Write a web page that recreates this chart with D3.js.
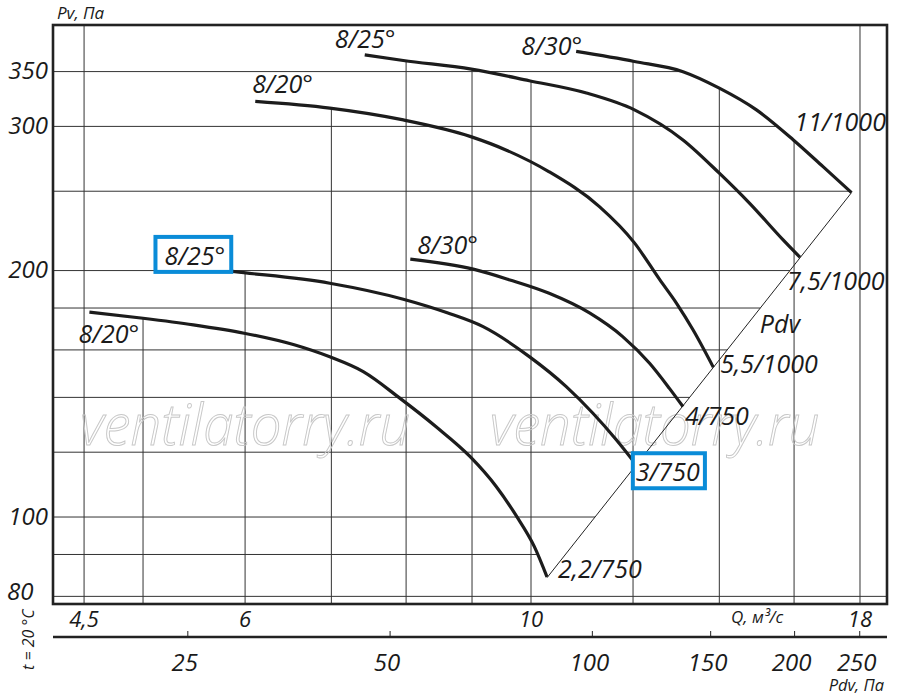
<!DOCTYPE html>
<html><head><meta charset="utf-8">
<script src="https://cdn.jsdelivr.net/npm/d3@7"></script>
<style>
body{margin:0;background:#fff;}
svg{display:block;}
text{font-family:"Open Sans",sans-serif;font-style:italic;fill:#1a1a1a;}
</style>
</head><body><svg id="c" width="900" height="696"></svg>
<script>
// ---------- DATA ----------
const qGrid = [4.5, 5, 6, 7, 8, 9, 10, 12, 14, 16, 18];
const pGrid = [80, 90, 100, 120, 140, 160, 180, 200, 250, 300, 350];
const qTicks = [4.5, 6, 10, 18];
const qTickLabels = ["4,5", "6", "10", "18"];
const pTicks = [80, 100, 200, 300, 350];
const pTickLabels = ["80", "100", "200", "300", "350"];
const pdvTicks = [25, 50, 100, 150, 200, 250];
const pdvTickLabels = ["25", "50", "100", "150", "200", "250"];

const angleLabels = ["8/20°", "8/25°", "8/30°", "8/20°", "8/25°", "8/30°"];
const motorLabels = ["2,2/750", "3/750", "4/750", "5,5/1000", "7,5/1000", "11/1000"];

const curveA_Q = [4.543, 5.00, 5.47, 5.99, 6.55, 6.98, 7.41, 7.91, 8.44, 8.97, 9.40, 9.75, 10.06, 10.29];
const curveA_P = [177.9, 174.9, 171.7, 167.7, 162.3, 156.9, 150.5, 139.7, 128.9, 118.5, 108.9, 100.1, 92.0, 84.5];
const curveB_Q = [5.57, 5.89, 6.98, 7.96, 8.61, 9.18, 9.97, 10.65, 11.17, 11.65, 12.06];
const curveB_P = [201.5, 199.4, 193.0, 184.5, 177.6, 170.8, 157.0, 144.3, 133.9, 124.2, 116.0];
const curveC_Q = [8.06, 9.02, 9.63, 10.33, 11.11, 11.78, 12.36, 12.81, 13.12];
const curveC_P = [206.5, 200.8, 194.8, 187.6, 177.4, 166.1, 154.1, 143.5, 136.4];
const curveD_Q = [6.11, 6.98, 7.96, 8.98, 9.56, 10.33, 11.30, 12.03, 12.59, 12.97, 13.36, 13.85];
const curveD_P = [321.8, 315.8, 305.5, 291.5, 280.8, 264.0, 239.4, 216.2, 194.8, 182.4, 169.2, 152.4];
const curveE_Q = [7.43, 7.96, 8.99, 9.97, 11.04, 12.03, 13.12, 14.00, 14.78, 15.69, 16.17];
const curveE_P = [366.9, 361.1, 352.4, 341.1, 329.5, 314.3, 288.8, 263.0, 241.6, 218.0, 207.6];
const curveF_Q = [10.84, 12.03, 13.12, 14.00, 14.96, 15.98, 16.85, 17.73];
const curveF_P = [370.4, 360.1, 349.9, 334.1, 314.3, 288.8, 267.9, 249.0];

// dynamic pressure line Pdv (two end points, straight on log-log)
const pdvLine_Q = [10.29, 17.73];
const pdvLine_P = [84.3, 249.0];

// ---------- LAYOUT ----------
const L = 53, R = 887, T = 25, B = 604;
const svg = d3.select("#c");
const x = d3.scaleLog().domain([4.257, 18.89]).range([L, R]);
const y = d3.scaleLog().domain([78.3, 399]).range([B, T]);
const xPdv = d3.scaleLog().domain([15.75, 274.5]).range([L, R]);

const curves = [
  {Q: curveA_Q, P: curveA_P},
  {Q: curveB_Q, P: curveB_P},
  {Q: curveC_Q, P: curveC_P},
  {Q: curveD_Q, P: curveD_P},
  {Q: curveE_Q, P: curveE_P},
  {Q: curveF_Q, P: curveF_P}
];
const pts = c => c.Q.map((q, i) => [q, c.P[i]]);

// offsets of labels relative to curve start / end (pixels)
const startOff = [[-11, 31, "start"], [-39, -3, "start"], [7, -5, "start"], [-3, -8, "start"], [-30, -7, "start"], [6, 4, "end"]];
const endOff = [[11, 1], [0, 17], [2, 18], [7, 6], [-13, 33], [-57, -62]];
const boxed = {start: [1], end: [1]};

function interpLog(xs, ys, v) {
  for (let i = 0; i < xs.length - 1; i++) {
    const a = xs[i], b = xs[i + 1];
    if ((v - a) * (v - b) <= 0 && a !== b) {
      const t = (Math.log(v) - Math.log(a)) / (Math.log(b) - Math.log(a));
      return Math.exp(Math.log(ys[i]) + t * (Math.log(ys[i + 1]) - Math.log(ys[i])));
    }
  }
  return null;
}

// ---------- GRID ----------
const gGrid = svg.append("g").attr("stroke", "#333").attr("stroke-width", 1).attr("fill", "none");
qGrid.forEach(q => {
  let top = null;
  curves.forEach(c => {
    const p = interpLog(c.Q, c.P, q);
    if (p !== null && (top === null || p > top)) top = p;
  });
  const yTop = top === null ? T : y(top);
  gGrid.append("line").attr("x1", x(q)).attr("x2", x(q)).attr("y1", B).attr("y2", yTop);
});
pGrid.forEach(p => {
  let right = null;
  curves.forEach(c => {
    const q = interpLog(c.P, c.Q, p);
    if (q !== null && (right === null || q > right)) right = q;
  });
  if (p >= 100) {
    const qd = interpLog(pdvLine_P, pdvLine_Q, p);
    if (qd !== null && (right === null || qd > right)) right = qd;
  }
  const xr = right === null ? R : x(right);
  gGrid.append("line").attr("x1", L).attr("x2", xr).attr("y1", y(p)).attr("y2", y(p));
});

// ---------- WATERMARK ----------
[[4.468, 8.06], [9.29, 16.74]].forEach(([q0, q1]) => {
  svg.append("text").text("ventilatorry.ru")
    .attr("x", x(q0)).attr("y", y(122.4))
    .attr("textLength", x(q1) - x(q0)).attr("lengthAdjust", "spacingAndGlyphs")
    .style("font-size", "57px").style("font-weight", 300)
    .style("fill", "none").style("stroke", "#c8c8c8").style("stroke-width", 1);
});

// ---------- PDV LINE ----------
svg.append("line")
  .attr("x1", x(pdvLine_Q[0])).attr("y1", y(pdvLine_P[0]))
  .attr("x2", x(pdvLine_Q[1])).attr("y2", y(pdvLine_P[1]))
  .attr("stroke", "#222").attr("stroke-width", 1);

// ---------- CURVES ----------
const line = d3.line().x(d => x(d[0])).y(d => y(d[1])).curve(d3.curveMonotoneX);
curves.forEach(c => {
  svg.append("path").attr("d", line(pts(c)))
    .attr("fill", "none").attr("stroke", "#1c1c1c").attr("stroke-width", 3.2)
    .attr("stroke-linecap", "butt");
});

// ---------- LABELS ----------
const labelSize = 25;
curves.forEach((c, i) => {
  const sx = x(c.Q[0]), sy = y(c.P[0]);
  const [dx, dy, anchor] = startOff[i];
  const t = svg.append("text").text(angleLabels[i])
    .attr("x", sx + dx).attr("y", sy + dy).attr("text-anchor", anchor)
    .style("font-size", labelSize + "px");
  if (boxed.start.includes(i)) {
    const bb = t.node().getBBox();
    svg.append("rect")
      .attr("x", bb.x - 9).attr("y", bb.y - 1).attr("width", bb.width + 15).attr("height", bb.height + 1)
      .attr("fill", "#fff").attr("stroke", "#0a8cd8").attr("stroke-width", 4);
    t.raise();
  }
  const n = c.Q.length - 1;
  const ex = x(c.Q[n]), ey = y(c.P[n]);
  const [ddx, ddy] = endOff[i];
  const m = svg.append("text").text(motorLabels[i])
    .attr("x", ex + ddx).attr("y", ey + ddy)
    .style("font-size", labelSize + "px");
  if (boxed.end.includes(i)) {
    const bb = m.node().getBBox();
    svg.append("rect")
      .attr("x", bb.x - 3).attr("y", bb.y - 1).attr("width", bb.width + 8).attr("height", bb.height + 1)
      .attr("fill", "#fff").attr("stroke", "#0a8cd8").attr("stroke-width", 4);
    m.raise();
  }
});
svg.append("text").text("Pdv").attr("x", x(15.05)).attr("y", y(167.8)).style("font-size", labelSize + "px");

// ---------- FRAME ----------
svg.append("rect").attr("x", L).attr("y", T).attr("width", R - L).attr("height", B - T)
  .attr("fill", "none").attr("stroke", "#222").attr("stroke-width", 2.6);

// ---------- Y AXIS LABELS ----------
pTicks.forEach((p, i) => {
  const last = p === 80;
  svg.append("text").text(pTickLabels[i])
    .attr("x", last ? 7 : 48).attr("y", y(p) + (last ? 3.5 : 7.5))
    .attr("text-anchor", last ? "start" : "end")
    .style("font-size", "24px");
});
svg.append("text").text("Pv, Па").attr("x", 57).attr("y", 19).style("font-size", "17px");

// ---------- Q AXIS LABELS ----------
qTicks.forEach((q, i) => {
  svg.append("text").text(qTickLabels[i]).attr("x", x(q)).attr("y", 627)
    .attr("text-anchor", "middle").style("font-size", "22px");
});
svg.append("text").text("Q, м³/с").attr("x", 731).attr("y", 623).style("font-size", "17px");

// ---------- PDV AXIS ----------
const axY = 637;
svg.append("line").attr("x1", L).attr("x2", R).attr("y1", axY).attr("y2", axY)
  .attr("stroke", "#222").attr("stroke-width", 2.4);
pdvTicks.forEach((v, i) => {
  svg.append("line").attr("x1", xPdv(v)).attr("x2", xPdv(v)).attr("y1", axY).attr("y2", axY - 6)
    .attr("stroke", "#222").attr("stroke-width", 1);
  svg.append("text").text(pdvTickLabels[i]).attr("x", xPdv(v) - 3).attr("y", 671)
    .attr("text-anchor", "middle").style("font-size", "24px");
});
svg.append("text").text("Pdv, Па").attr("x", 884).attr("y", 690.5).attr("text-anchor", "end").style("font-size", "16.5px");

// ---------- TEMPERATURE NOTE ----------
svg.append("text").text("t = 20 °C")
  .attr("transform", "translate(34,670) rotate(-90)")
  .style("font-size", "16px");
</script></body></html>
